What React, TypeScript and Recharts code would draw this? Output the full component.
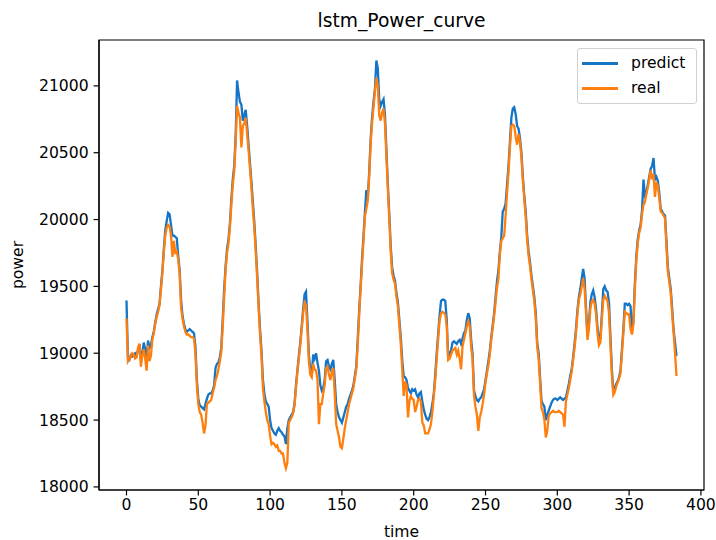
import React from "react";
import {
  Line,
  LineChart,
  ReferenceArea,
  XAxis,
  YAxis,
} from "recharts";

// matplotlib tab10 colours (blue a touch brighter, as in the picture)
const COLOR = {
  predict: "#1474c6",
  real: "#ff7f0e",
  axis: "#000000",
  text: "#000000",
};

const FONT = "'DejaVu Sans', Verdana, sans-serif";

const TITLE = "lstm_Power_curve";
const X_LABEL = "time";
const Y_LABEL = "power";

const X_TICKS = [0, 50, 100, 150, 200, 250, 300, 350, 400];
const Y_TICKS = [18000, 18500, 19000, 19500, 20000, 20500, 21000];

// LSTM prediction, one value per time step (0..383)
const PREDICT = [
  19395, 18960, 18950, 18985, 18975, 18990, 19000, 18980, 19020, 19070,
  18950, 19000, 19080, 19030, 18960, 19095, 19040, 19060, 19120, 19160,
  19230, 19290, 19330, 19370, 19500, 19620, 19780, 19920, 19990, 20050,
  20040, 19960, 19880, 19880, 19870, 19860, 19730, 19620, 19400, 19280,
  19220, 19180, 19160, 19170, 19180, 19170, 19160, 19150, 19050, 18800,
  18660, 18610, 18600, 18590, 18580, 18620, 18660, 18690, 18700, 18700,
  18720, 18760, 18890, 18920, 18930, 18970, 19040, 19250, 19480, 19650,
  19780, 19850, 19970, 20150, 20300, 20400, 20620, 21040, 20950, 20880,
  20860, 20740, 20780, 20820, 20700, 20560, 20420, 20280, 20130, 19980,
  19800, 19600, 19370, 19180, 19020, 18800, 18700, 18640, 18620, 18600,
  18500, 18440, 18420, 18400, 18390, 18420, 18440, 18420, 18410, 18390,
  18380, 18320, 18440, 18500, 18520, 18540, 18560, 18620, 18760, 18870,
  18980, 19080, 19200, 19330, 19440, 19460, 19240, 18990, 18880, 18840,
  18990, 18960, 19000, 18930, 18870, 18760, 18720, 18740, 18800, 18940,
  18950, 18900, 18880, 18920, 18950, 18800, 18620, 18560, 18520, 18500,
  18480, 18520, 18560, 18600, 18620, 18660, 18690, 18720, 18760, 18830,
  18900, 19100, 19320, 19500, 19700, 19870, 20050, 20220, 20160, 20350,
  20600, 20760, 20880, 20980, 21190, 21130, 20900, 20850, 20880, 20900,
  20780, 20520, 20260, 20040, 19800, 19640, 19580, 19540, 19450, 19380,
  19250, 19120, 18950, 18830, 18820, 18800, 18740, 18720, 18700, 18730,
  18720, 18730, 18690, 18670, 18700, 18710, 18640, 18580, 18540, 18510,
  18500, 18520, 18560, 18620, 18700, 18840, 19000, 19140, 19280, 19390,
  19400, 19400, 19390, 19250, 18970, 19000, 19020, 19080, 19090, 19080,
  19070, 19090, 19100, 19070, 19110, 19150, 19170, 19250, 19300, 19260,
  19100, 18990, 18720, 18680, 18650, 18640, 18660, 18670, 18700, 18730,
  18800, 18870, 18940, 19020, 19120, 19210, 19300, 19420, 19540, 19620,
  19760, 19870, 20060, 20080, 20120, 20260, 20400, 20580, 20760, 20830,
  20840, 20790, 20700, 20680, 20610, 20500, 20320, 20180, 20060, 19880,
  19760, 19680, 19580, 19500, 19420, 19300, 19080, 19000, 18820, 18640,
  18620, 18600, 18500, 18540, 18570, 18600, 18630, 18650, 18660, 18660,
  18650, 18660, 18670, 18660, 18650, 18660, 18670, 18720, 18770, 18830,
  18880, 18970, 19070, 19180, 19320, 19420, 19480, 19560, 19630, 19560,
  19340, 19130, 19220, 19380, 19440, 19470, 19420, 19330, 19190, 19100,
  19110, 19290, 19480, 19500, 19470, 19460, 19380, 19120, 18880, 18710,
  18740, 18770, 18790, 18820, 18870, 19030, 19180, 19370, 19370, 19360,
  19370, 19350, 19160, 19240, 19520, 19720, 19850, 19920, 19960, 20070,
  20300, 20180, 20200, 20260, 20320, 20380, 20400, 20460, 20300, 20320,
  20290, 20200, 20080, 20060, 20040, 20030, 19840, 19640, 19560, 19480,
  19330, 19170, 19080, 18980,
];

// measured power, same time steps
const REAL = [
  19260, 18940, 18960, 18970, 19000, 18990, 18960, 18970, 19040, 19070,
  18900, 18980, 19030, 18960, 18870, 19060, 18940, 18980, 19100, 19150,
  19220, 19270, 19310, 19360, 19480, 19600, 19760, 19880, 19940, 19960,
  19950, 19880, 19720, 19840, 19750, 19760, 19700, 19600, 19340, 19260,
  19200, 19160, 19140, 19140, 19130, 19120, 19120, 19110, 19000, 18760,
  18620, 18560, 18540, 18480, 18400, 18460, 18620, 18630, 18640, 18650,
  18700, 18740, 18800, 18830, 18880, 18940, 19010, 19200, 19420, 19620,
  19750, 19820, 19940, 20110, 20260, 20360, 20580, 20850, 20800, 20760,
  20540, 20700, 20720, 20760, 20640, 20520, 20380, 20240, 20080, 19940,
  19760, 19560, 19340, 19140, 18980, 18740, 18640, 18560, 18500, 18470,
  18380, 18320, 18330, 18320, 18300, 18310, 18270, 18270, 18250, 18250,
  18180, 18140, 18180, 18480, 18500, 18520, 18550, 18610, 18740, 18860,
  18960, 19060, 19180, 19300, 19380, 19360, 19180, 18940, 18840, 18820,
  18920, 18880, 18870, 18800, 18470, 18620, 18620, 18700, 18760, 18890,
  18900, 18840, 18800, 18860, 18890, 18700, 18470, 18420, 18370, 18300,
  18290, 18360, 18440, 18500, 18560, 18620, 18660, 18700, 18740, 18810,
  18880, 19060, 19280, 19480, 19660, 19840, 20020, 20080, 20140, 20320,
  20570, 20720, 20840, 20960, 21060, 21000, 20780, 20740, 20800, 20830,
  20720, 20470, 20230, 20000, 19760, 19600, 19550, 19520, 19420, 19350,
  19210, 19070, 18880, 18680, 18790, 18760, 18520, 18640, 18680, 18660,
  18650, 18560, 18600, 18650, 18660, 18640, 18480, 18460, 18400, 18400,
  18400, 18430, 18470, 18560, 18680, 18800, 18960, 19100, 19240, 19300,
  19310, 19300, 19290, 19200, 18950, 18960, 18990, 19020, 19030, 19040,
  18990, 19020, 18960, 18880, 19050, 19100, 19150, 19200, 19240, 19200,
  19050, 18950, 18680, 18600, 18540, 18420, 18520, 18560, 18620, 18690,
  18780, 18850, 18910, 18990, 19100, 19190, 19280, 19380, 19490, 19560,
  19740, 19840, 19860, 19880, 20030, 20200, 20350, 20540, 20700, 20710,
  20700, 20620, 20560, 20640, 20580, 20470, 20290, 20150, 20020, 19850,
  19730, 19650, 19550, 19470, 19390, 19260, 19050, 18960, 18780, 18590,
  18560, 18500, 18370, 18420, 18530, 18550, 18560, 18570, 18560, 18560,
  18560, 18570, 18560, 18550, 18540, 18450, 18640, 18690, 18740, 18800,
  18860, 18950, 19040, 19150, 19290, 19400, 19440, 19500, 19560, 19480,
  19300, 19100, 19180, 19330, 19390, 19400, 19370, 19290, 19150, 19060,
  19080, 19250, 19400, 19430, 19410, 19390, 19300, 19060, 18840, 18690,
  18710, 18750, 18780, 18810, 18850, 19000, 19150, 19310, 19300, 19290,
  19290, 19180, 19140, 19220, 19480, 19690, 19820, 19900, 19940, 20040,
  20110, 20130, 20190, 20240, 20300, 20370, 20300, 20340, 20170, 20280,
  20250, 20160, 20060, 20050, 20030, 20010, 19800, 19610, 19530, 19450,
  19290, 19150, 19000, 18830,
];

const SERIES = [
  { key: "predict", label: "predict", color: COLOR.predict },
  { key: "real", label: "real", color: COLOR.real },
];

const rows = PREDICT.map((p, i) => ({ t: i, predict: p, real: REAL[i] }));

// axis range with matplotlib's 5% padding
const X_DOMAIN: [number, number] = [-19.15, 402.15];
const Y_DOMAIN: [number, number] = [17977, 21343];

if (typeof document !== "undefined") document.body.style.margin = "0";

const textStyle = {
  position: "absolute" as const,
  fontFamily: FONT,
  color: COLOR.text,
  whiteSpace: "nowrap" as const,
};

function LegendBox() {
  return (
    <div
      style={{
        position: "absolute",
        left: 577,
        top: 48,
        width: 120,
        height: 56,
        border: "1px solid #d0d0d0",
        borderRadius: 3,
        background: "rgba(255,255,255,0.8)",
        fontFamily: FONT,
        fontSize: 15.6,
        color: COLOR.text,
        boxSizing: "border-box",
        paddingTop: 2,
      }}
    >
      {SERIES.map((s) => (
        <div key={s.key} style={{ display: "flex", alignItems: "center", height: 25 }}>
          <span
            style={{
              display: "inline-block",
              marginLeft: 4,
              width: 36,
              height: 2.4,
              background: s.color,
            }}
          />
          <span style={{ marginLeft: 13, lineHeight: "25px" }}>{s.label}</span>
        </div>
      ))}
    </div>
  );
}

export default function App() {
  return (
    <div style={{ position: "relative", width: 716, height: 540, background: "#fff" }}>
      <LineChart
        width={716}
        height={540}
        data={rows}
        margin={{ top: 40, right: 12, left: 0, bottom: 0 }}
      >
        <XAxis
          type="number"
          dataKey="t"
          domain={X_DOMAIN}
          ticks={X_TICKS}
          allowDataOverflow
          height={50}
          stroke={COLOR.axis}
          strokeWidth={1.2}
          tickSize={5.4}
          tickMargin={4}
          tick={{ fill: COLOR.text, fontSize: 15.6, fontFamily: FONT }}
        />
        <YAxis
          type="number"
          domain={Y_DOMAIN}
          ticks={Y_TICKS}
          allowDataOverflow
          width={99}
          stroke={COLOR.axis}
          strokeWidth={1.2}
          tickSize={5.4}
          tickMargin={5}
          tick={{ fill: COLOR.text, fontSize: 15.6, fontFamily: FONT }}
        />
        <ReferenceArea
          x1={X_DOMAIN[0]}
          x2={X_DOMAIN[1]}
          y1={Y_DOMAIN[0]}
          y2={Y_DOMAIN[1]}
          fill="none"
          stroke={COLOR.axis}
          strokeWidth={1.2}
        />
        {SERIES.map((s) => (
          <Line
            key={s.key}
            type="linear"
            dataKey={s.key}
            name={s.label}
            stroke={s.color}
            strokeWidth={2.3}
            dot={false}
            isAnimationActive={false}
          />
        ))}
      </LineChart>
      <div style={{ ...textStyle, left: 99, width: 605, top: 10, textAlign: "center", fontSize: 18.7, lineHeight: "22px" }}>
        {TITLE}
      </div>
      <div style={{ ...textStyle, left: 99, width: 605, top: 522, textAlign: "center", fontSize: 15.6, lineHeight: "20px" }}>
        {X_LABEL}
      </div>
      <div
        style={{
          ...textStyle,
          left: 18,
          top: 265,
          transform: "translate(-50%, -50%) rotate(-90deg)",
          fontSize: 15.6,
          lineHeight: "20px",
        }}
      >
        {Y_LABEL}
      </div>
      <LegendBox />
    </div>
  );
}
